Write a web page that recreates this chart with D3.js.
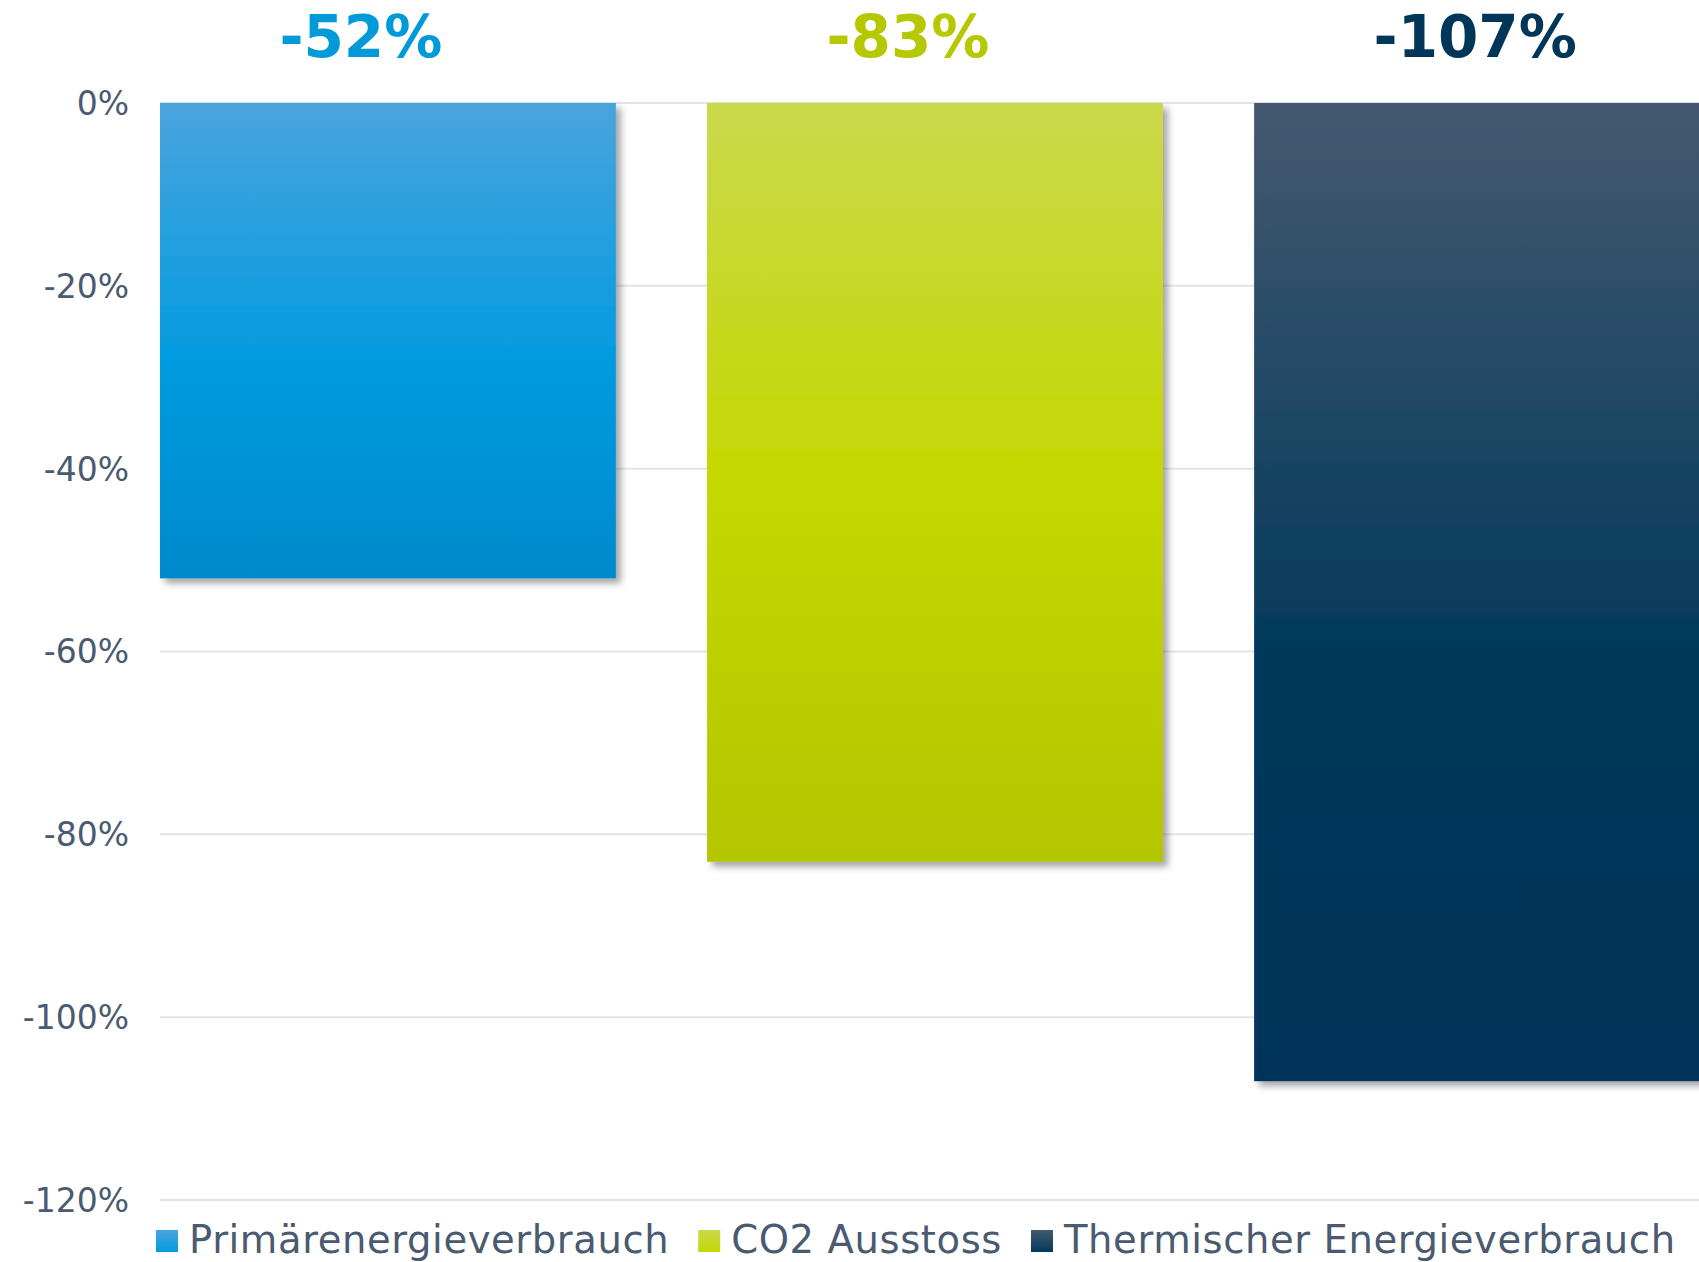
<!DOCTYPE html>
<html>
<head>
<meta charset="utf-8">
<script src="https://cdn.jsdelivr.net/npm/d3@7"></script>
<style>
  html, body { margin: 0; padding: 0; background: #ffffff; overflow: hidden; }
  svg { display: block; }
</style>
</head>
<body>
<svg id="chart" width="1699" height="1262"></svg>
<script>
// ---- data ----
const categories = ["Primärenergieverbrauch", "CO2 Ausstoss", "Thermischer Energieverbrauch"];
const values = [-52, -83, -107];
const valueLabels = ["-52%", "-83%", "-107%"];
const yTicks = [0, -20, -40, -60, -80, -100, -120];
const yTickLabels = ["0%", "-20%", "-40%", "-60%", "-80%", "-100%", "-120%"];
const colorsTop = ["#4aa4dd", "#c9d94c", "#45596f"];
const colorsMid = ["#049be0", "#c4d800", "#00385b"];
const colorsBottom = ["#008acd", "#b3c600", "#00335a"];
const midStops = ["53%", "50%", "58%"];
const labelColors = ["#009ad8", "#b5c800", "#003657"];

const W = 1699, H = 1262;
const svg = d3.select("#chart");
const defs = svg.append("defs");

// drop shadow
const f = defs.append("filter").attr("id", "shadow")
  .attr("x", "-5%").attr("y", "-5%").attr("width", "115%").attr("height", "115%");
f.append("feDropShadow").attr("dx", 5).attr("dy", 5).attr("stdDeviation", 3.5)
  .attr("flood-color", "#000").attr("flood-opacity", 0.35);

categories.forEach((c, i) => {
  const g = defs.append("linearGradient").attr("id", "grad" + i)
    .attr("x1", 0).attr("y1", 0).attr("x2", 0).attr("y2", 1);
  g.append("stop").attr("offset", "0%").attr("stop-color", colorsTop[i]);
  g.append("stop").attr("offset", midStops[i]).attr("stop-color", colorsMid[i]);
  g.append("stop").attr("offset", "100%").attr("stop-color", colorsBottom[i]);
});

const y = d3.scaleLinear().domain([-120, 0]).range([1200, 103]);
const x = d3.scaleBand().domain(categories).range([160, 1710])
  .paddingInner(0.1667).paddingOuter(0);

// gridlines
svg.append("g").selectAll("line").data(yTicks).join("line")
  .attr("x1", x.range()[0]).attr("x2", x.range()[1])
  .attr("y1", d => y(d)).attr("y2", d => y(d))
  .attr("stroke", "#e1e5eb").attr("stroke-width", 2);

// y-axis labels
svg.append("g").selectAll("text").data(yTicks).join("text")
  .attr("x", 129).attr("y", d => y(d)).attr("dy", "0.36em")
  .attr("text-anchor", "end")
  .attr("font-family", "DejaVu Sans, Verdana, sans-serif")
  .attr("font-size", 33).attr("fill", "#4a5a70")
  .text((d, i) => yTickLabels[i]);

// bars
svg.append("g").selectAll("rect").data(categories).join("rect")
  .attr("x", d => x(d))
  .attr("y", y(0))
  .attr("width", x.bandwidth())
  .attr("height", (d, i) => y(values[i]) - y(0))
  .attr("fill", (d, i) => `url(#grad${i})`)
  .attr("filter", "url(#shadow)");

// value labels above
svg.append("g").selectAll("text").data(categories).join("text")
  .attr("x", d => x(d) + x.bandwidth() * 0.262)
  .attr("y", 57)
  .attr("text-anchor", "start")
  .attr("font-family", "DejaVu Sans, Verdana, sans-serif")
  .attr("font-weight", "bold")
  .attr("font-size", 58)
  .attr("fill", (d, i) => labelColors[i])
  .text((d, i) => valueLabels[i]);

// legend
const legend = svg.append("g");
let lx = 156;
categories.forEach((c, i) => {
  const gi = defs.append("linearGradient").attr("id", "lgrad" + i)
    .attr("x1", 0).attr("y1", 0).attr("x2", 0).attr("y2", 1);
  gi.append("stop").attr("offset", "0%").attr("stop-color", colorsTop[i]);
  gi.append("stop").attr("offset", "100%").attr("stop-color", colorsMid[i]);
  legend.append("rect").attr("x", lx).attr("y", 1230).attr("width", 22).attr("height", 22)
    .attr("fill", `url(#lgrad${i})`);
  const t = legend.append("text").attr("x", lx + 33).attr("y", 1253)
    .attr("font-family", "DejaVu Sans, Verdana, sans-serif")
    .attr("font-size", 38.5).attr("letter-spacing", "0.6px")
    .attr("fill", "#4a5a70").text(c);
  lx += 33 + t.node().getComputedTextLength() + 29;
});
</script>
</body>
</html>
